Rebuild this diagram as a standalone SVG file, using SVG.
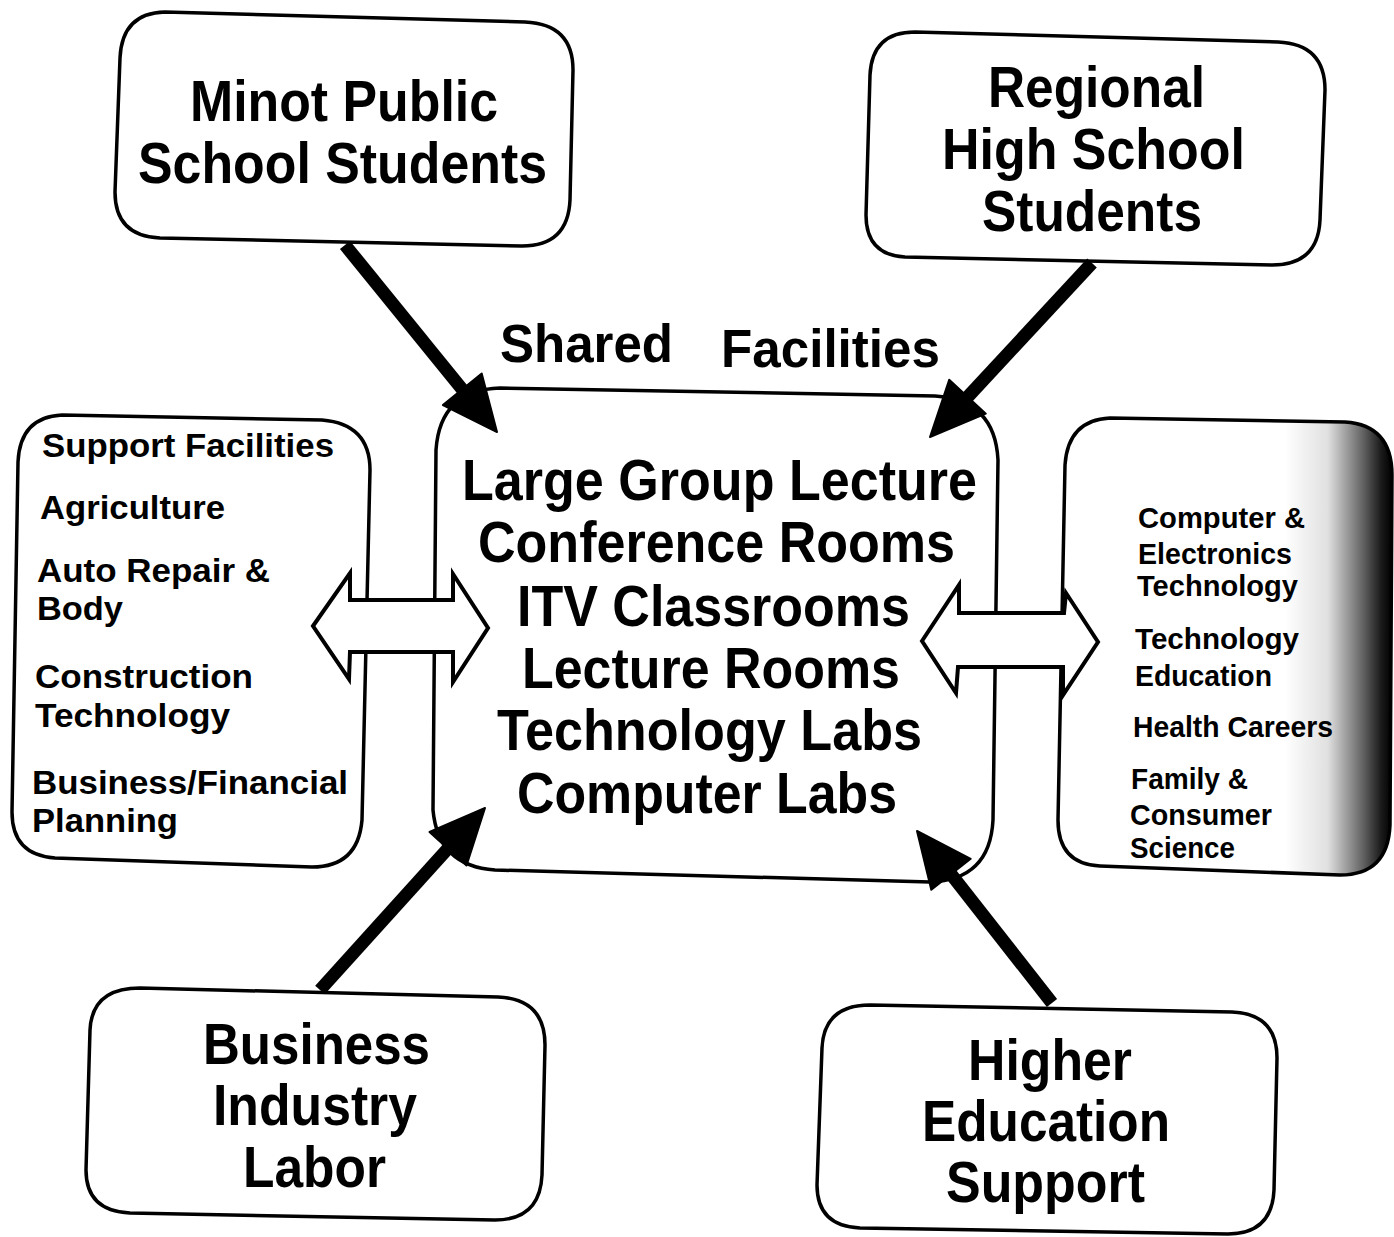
<svg xmlns="http://www.w3.org/2000/svg" width="1394" height="1237" viewBox="0 0 1394 1237">
<style>
.box{fill:#fff;stroke:#000;stroke-width:3.5;stroke-linejoin:round}
.t{font-family:"Liberation Sans",Arial,sans-serif;font-weight:bold;fill:#000}
.big{font-size:58px}
.mid{font-size:54px}
.sm{font-size:34px}
.xs{font-size:30px}
.dbl{fill:#fff;stroke:#000;stroke-width:4;stroke-linejoin:miter}
.shaft{stroke:#000;stroke-width:13;fill:none}
.head{fill:#000;stroke:#000;stroke-width:2;stroke-linejoin:round}
</style>
<defs>
<linearGradient id="shade" gradientUnits="userSpaceOnUse" x1="1285" y1="0" x2="1392" y2="0">
<stop offset="0" stop-color="#fff"/>
<stop offset="0.4" stop-color="#e0e0e0"/>
<stop offset="0.72" stop-color="#666"/>
<stop offset="0.9" stop-color="#1a1a1a"/>
<stop offset="1" stop-color="#000"/>
</linearGradient>
</defs>
<rect width="1394" height="1237" fill="#fff"/>

<g id="minot">
<path class="box" d="M 165 12 L 525 22 Q 573 24 573 70 L 570 200 Q 568 246 522 246 L 160 238 Q 115 236 115 192 L 120 58 Q 122 13 165 12 Z"/>
<text class="t big" x="190" y="121" textLength="308" lengthAdjust="spacingAndGlyphs">Minot Public</text>
<text class="t big" x="138" y="183" textLength="409" lengthAdjust="spacingAndGlyphs">School Students</text>
</g>

<g id="regional">
<path class="box" d="M 915 32 L 1278 42 Q 1325 44 1325 90 L 1320 220 Q 1318 265 1272 265 L 905 257 Q 866 255 866 215 L 870 75 Q 872 32 915 32 Z"/>
<text class="t big" x="988" y="107" textLength="217" lengthAdjust="spacingAndGlyphs">Regional</text>
<text class="t big" x="942" y="169" textLength="303" lengthAdjust="spacingAndGlyphs">High School</text>
<text class="t big" x="982" y="231" textLength="220" lengthAdjust="spacingAndGlyphs">Students</text>
</g>

<g id="shared-title">
<text class="t mid" x="500" y="362" textLength="173" lengthAdjust="spacingAndGlyphs">Shared</text>
<text class="t mid" x="721" y="367" textLength="219" lengthAdjust="spacingAndGlyphs">Facilities</text>
</g>

<g id="left-programs">
<path class="box" d="M 62 415 L 322 420 Q 370 424 370 470 L 362 820 Q 358 867 312 867 L 55 858 Q 12 855 12 812 L 18 462 Q 20 417 62 415 Z"/>
<text class="t sm" x="42" y="457" textLength="292" lengthAdjust="spacingAndGlyphs">Support Facilities</text>
<text class="t sm" x="40" y="519" textLength="185" lengthAdjust="spacingAndGlyphs">Agriculture</text>
<text class="t sm" x="37" y="582" textLength="233" lengthAdjust="spacingAndGlyphs">Auto Repair &amp;</text>
<text class="t sm" x="37" y="620" textLength="86" lengthAdjust="spacingAndGlyphs">Body</text>
<text class="t sm" x="35" y="688" textLength="218" lengthAdjust="spacingAndGlyphs">Construction</text>
<text class="t sm" x="35" y="727" textLength="195" lengthAdjust="spacingAndGlyphs">Technology</text>
<text class="t sm" x="32" y="794" textLength="316" lengthAdjust="spacingAndGlyphs">Business/Financial</text>
<text class="t sm" x="32" y="832" textLength="146" lengthAdjust="spacingAndGlyphs">Planning</text>
</g>

<g id="shared-facilities">
<path class="box" d="M 500 388 L 935 396 Q 995 400 998 460 L 993 820 Q 990 880 930 882 L 495 870 Q 438 866 433 810 L 436 450 Q 440 390 500 388 Z"/>
<text class="t big" x="462" y="500" textLength="515" lengthAdjust="spacingAndGlyphs">Large Group Lecture</text>
<text class="t big" x="478" y="562" textLength="477" lengthAdjust="spacingAndGlyphs">Conference Rooms</text>
<text class="t big" x="517" y="626" textLength="393" lengthAdjust="spacingAndGlyphs">ITV Classrooms</text>
<text class="t big" x="522" y="688" textLength="378" lengthAdjust="spacingAndGlyphs">Lecture Rooms</text>
<text class="t big" x="497" y="750" textLength="425" lengthAdjust="spacingAndGlyphs">Technology Labs</text>
<text class="t big" x="517" y="813" textLength="380" lengthAdjust="spacingAndGlyphs">Computer Labs</text>
</g>

<g id="right-programs">
<path d="M 1110 418 L 1345 422 Q 1392 425 1392 475 L 1390 825 Q 1388 875 1340 875 L 1100 866 Q 1058 864 1058 820 L 1065 465 Q 1068 420 1110 418 Z" fill="url(#shade)" stroke="#000" stroke-width="3.5"/>
<text class="t xs" x="1138" y="528" textLength="167" lengthAdjust="spacingAndGlyphs">Computer &amp;</text>
<text class="t xs" x="1138" y="564" textLength="154" lengthAdjust="spacingAndGlyphs">Electronics</text>
<text class="t xs" x="1137" y="596" textLength="161" lengthAdjust="spacingAndGlyphs">Technology</text>
<text class="t xs" x="1135" y="649" textLength="164" lengthAdjust="spacingAndGlyphs">Technology</text>
<text class="t xs" x="1135" y="686" textLength="137" lengthAdjust="spacingAndGlyphs">Education</text>
<text class="t xs" x="1133" y="737" textLength="200" lengthAdjust="spacingAndGlyphs">Health Careers</text>
<text class="t xs" x="1131" y="789" textLength="117" lengthAdjust="spacingAndGlyphs">Family &amp;</text>
<text class="t xs" x="1130" y="825" textLength="142" lengthAdjust="spacingAndGlyphs">Consumer</text>
<text class="t xs" x="1130" y="858" textLength="105" lengthAdjust="spacingAndGlyphs">Science</text>
</g>

<g id="business">
<path class="box" d="M 140 988 L 498 997 Q 545 999 545 1045 L 542 1175 Q 540 1220 495 1220 L 130 1213 Q 86 1211 86 1170 L 90 1030 Q 92 988 140 988 Z"/>
<text class="t big" x="203" y="1064" textLength="227" lengthAdjust="spacingAndGlyphs">Business</text>
<text class="t big" x="213" y="1125" textLength="204" lengthAdjust="spacingAndGlyphs">Industry</text>
<text class="t big" x="243" y="1187" textLength="143" lengthAdjust="spacingAndGlyphs">Labor</text>
</g>

<g id="higher-ed">
<path class="box" d="M 870 1005 L 1232 1012 Q 1277 1014 1277 1058 L 1274 1190 Q 1272 1234 1228 1234 L 860 1228 Q 817 1226 817 1185 L 822 1048 Q 824 1005 870 1005 Z"/>
<text class="t big" x="968" y="1080" textLength="164" lengthAdjust="spacingAndGlyphs">Higher</text>
<text class="t big" x="922" y="1141" textLength="248" lengthAdjust="spacingAndGlyphs">Education</text>
<text class="t big" x="946" y="1202" textLength="199" lengthAdjust="spacingAndGlyphs">Support</text>
</g>

<g id="connectors">
<path class="dbl" d="M 313 626 L 350 573 L 350 600 L 453 600 L 453 574 L 488 628 L 453 682 L 453 652 L 350 652 L 349 679 Z"/>
<path class="dbl" d="M 922 641 L 959 585 L 959 613 L 1064 613 L 1066 593 L 1098 642 L 1063 695 L 1063 667 L 958 667 L 956 693 Z"/>
<line class="shaft" x1="345" y1="245" x2="466" y2="394"/>
<polygon class="head" points="497,432 442.9,405.1 481.7,373.5"/>
<line class="shaft" x1="1092" y1="263" x2="963" y2="402"/>
<polygon class="head" points="930,437 985.8,413.7 949.2,379.7"/>
<line class="shaft" x1="320" y1="990" x2="452" y2="844"/>
<polygon class="head" points="485,808 466.5,865.5 429.5,831.9"/>
<line class="shaft" x1="1052" y1="1003" x2="947" y2="869"/>
<polygon class="head" points="917,831 970.7,858.8 931.3,889.8"/>
</g>
</svg>
